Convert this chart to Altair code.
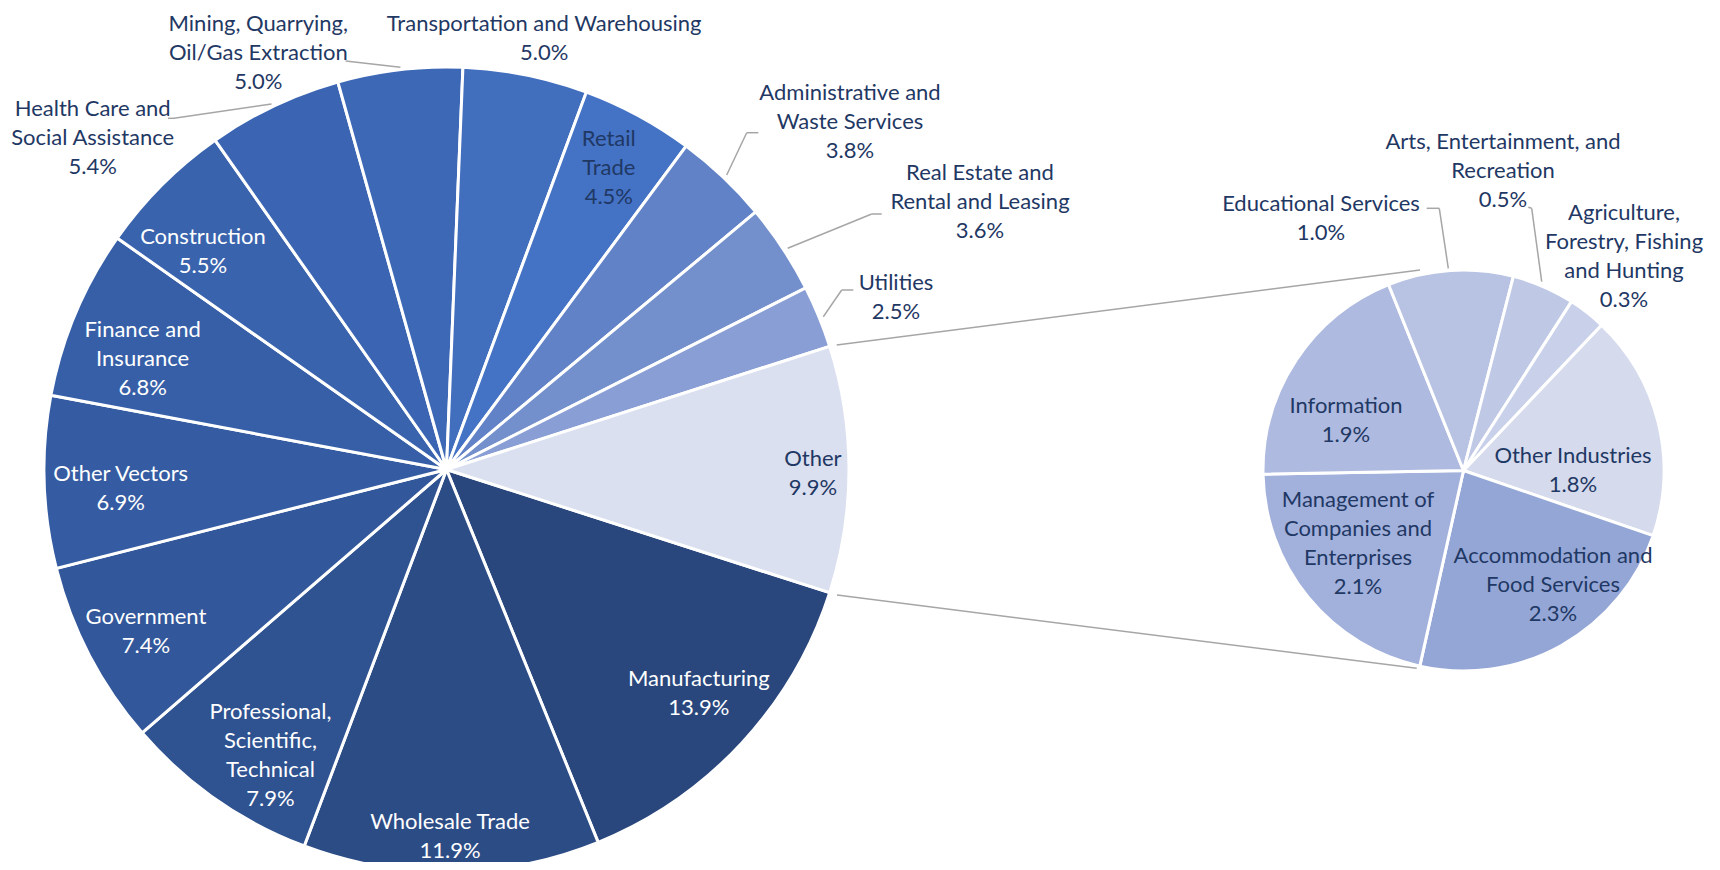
import math
import altair as alt
import pandas as pd

# ---------------- data ----------------
main_names = [
    "Manufacturing", "Wholesale Trade", "Professional, Scientific, Technical",
    "Government", "Other Vectors", "Finance and Insurance", "Construction",
    "Health Care and Social Assistance", "Mining, Quarrying, Oil/Gas Extraction",
    "Transportation and Warehousing", "Retail Trade",
    "Administrative and Waste Services", "Real Estate and Rental and Leasing",
    "Utilities", "Other",
]
main_values = [13.9, 11.9, 7.9, 7.4, 6.9, 6.8, 5.5, 5.4, 5.0, 5.0, 4.5, 3.8, 3.6, 2.5, 9.9]
main_label_lines = [
    ["Manufacturing"], ["Wholesale Trade"], ["Professional,", "Scientific,", "Technical"],
    ["Government"], ["Other Vectors"], ["Finance and", "Insurance"], ["Construction"],
    ["Health Care and", "Social Assistance"], ["Mining, Quarrying,", "Oil/Gas Extraction"],
    ["Transportation and Warehousing"], ["Retail", "Trade"],
    ["Administrative and", "Waste Services"], ["Real Estate and", "Rental and Leasing"],
    ["Utilities"], ["Other"],
]

sub_names = [
    "Other Industries", "Accommodation and Food Services",
    "Management of Companies and Enterprises", "Information",
    "Educational Services", "Arts, Entertainment, and Recreation",
    "Agriculture, Forestry, Fishing and Hunting",
]
sub_values = [1.8, 2.3, 2.1, 1.9, 1.0, 0.5, 0.3]
sub_label_lines = [
    ["Other Industries"], ["Accommodation and", "Food Services"],
    ["Management of", "Companies and", "Enterprises"], ["Information"],
    ["Educational Services"], ["Arts, Entertainment, and", "Recreation"],
    ["Agriculture,", "Forestry, Fishing", "and Hunting"],
]

# ---------------- styles ----------------
main_colors = [
    "#29477D", "#2C4C86", "#2F5290", "#32579A", "#355CA2", "#375FA8", "#3A63AE",
    "#3B65B2", "#3D68B6", "#416EBD", "#4472C4", "#6282C7", "#7390CC", "#889ED4", "#DAE0EF",
]
sub_colors = ["#D5DBED", "#94A6D6", "#A2B0DC", "#AEBADF", "#B8C3E3", "#BFC9E6", "#C8D0EA"]
NAVY = "#1F3864"
WHITE = "#FFFFFF"
LINE = "#A6A6A6"
FONT = "Lato"
FS = 22
LH = 29

# ---------------- layout (pixels in plot area) ----------------
OFF = 8
W, H = 1720 - 2 * OFF, 870 - 2 * OFF
main_cx, main_cy, main_r = 446.5 - OFF, 469.5 - OFF, 402.5
sub_cx, sub_cy, sub_r = 1463.5 - OFF, 470.5 - OFF, 200.5
main_start = math.pi / 2 + math.pi * main_values[-1] / sum(main_values)
sub_start = math.radians(43.5)

# block centres of each label
main_label_pos = [
    (698.8, 693.3, WHITE), (450, 836.9, WHITE), (270.4, 755.3, WHITE),
    (146, 631.8, WHITE), (120.7, 488.2, WHITE), (142.6, 358.7, WHITE),
    (203, 251.8, WHITE), (92.7, 138.2, NAVY), (258.3, 52.7, NAVY),
    (544.1, 38.0, NAVY), (608.8, 168.4, NAVY), (850, 122, NAVY),
    (980, 202, NAVY), (896, 297.8, NAVY), (812.9, 473.8, NAVY),
]
sub_label_pos = [
    (1573, 470, NAVY), (1553, 584.8, NAVY), (1358, 543, NAVY), (1346, 420.5, NAVY),
    (1321, 218.3, NAVY), (1503, 170.8, NAVY), (1624, 256.7, NAVY),
]
leader_polylines = [
    [(345.6, 61), (400.4, 67.3)],
    [(168, 118.3), (174, 118.3), (271.5, 104)],
    [(758.3, 132.7), (746.7, 132.7), (726.7, 175)],
    [(881.7, 214), (871.7, 214), (787.7, 248.3)],
    [(853.3, 290), (841.7, 290), (823.3, 316.7)],
    [(1426.7, 208.3), (1439.3, 208.3), (1448.3, 268.3)],
    [(1528.3, 207.3), (1531.7, 208.3), (1541.7, 281.7)],
    [(836.7, 345), (1420, 270)],
    [(837, 595), (1416.7, 668.3)],
]

# ---------------- tables ----------------
main_df = pd.DataFrame({"name": main_names, "value": main_values,
                        "idx": list(range(len(main_names)))})
sub_df = pd.DataFrame({"name": sub_names, "value": sub_values,
                       "idx": list(range(len(sub_names)))})


def label_rows(lines, values, pos):
    rows = []
    for ln, v, (x, y, c) in zip(lines, values, pos):
        all_lines = ln + [f"{v:.1f}%"]
        first_y = y - (len(all_lines) - 1) * LH / 2
        rows.append({"text": "\n".join(all_lines),
                     "x": x - OFF, "y": first_y - OFF, "c": c})
    return pd.DataFrame(rows)


labels_df = pd.concat([label_rows(main_label_lines, main_values, main_label_pos),
                       label_rows(sub_label_lines, sub_values, sub_label_pos)],
                      ignore_index=True)

seg_rows = []
for poly in leader_polylines:
    for (x1, y1), (x2, y2) in zip(poly[:-1], poly[1:]):
        seg_rows.append({"x": x1 - OFF, "y": y1 - OFF, "x2": x2 - OFF, "y2": y2 - OFF})
seg_df = pd.DataFrame(seg_rows)

# ---------------- marks ----------------
main_pie = alt.Chart(main_df).mark_arc(
    outerRadius=main_r, stroke="white", strokeWidth=3
).encode(
    theta=alt.Theta("value:Q", stack=True,
                    scale=alt.Scale(range=[main_start, main_start + 2 * math.pi])),
    order=alt.Order("idx:Q"),
    color=alt.Color("name:N", scale=alt.Scale(domain=main_names, range=main_colors),
                    legend=None),
    x=alt.value(main_cx),
    y=alt.value(main_cy),
)

sub_pie = alt.Chart(sub_df).mark_arc(
    outerRadius=sub_r, stroke="white", strokeWidth=3
).encode(
    theta=alt.Theta("value:Q", stack=True,
                    scale=alt.Scale(range=[sub_start, sub_start + 2 * math.pi])),
    order=alt.Order("idx:Q"),
    color=alt.Color("name:N", scale=alt.Scale(domain=sub_names, range=sub_colors),
                    legend=None),
    x=alt.value(sub_cx),
    y=alt.value(sub_cy),
)

leaders = alt.Chart(seg_df).mark_rule(color=LINE, strokeWidth=1.5).encode(
    x=alt.X("x:Q", scale=None, axis=None),
    y=alt.Y("y:Q", scale=None, axis=None),
    x2="x2:Q",
    y2="y2:Q",
)

texts = alt.Chart(labels_df).mark_text(
    font=FONT, fontSize=FS, lineBreak="\n", lineHeight=LH,
    align="center", baseline="middle",
).encode(
    x=alt.X("x:Q", scale=None, axis=None),
    y=alt.Y("y:Q", scale=None, axis=None),
    text="text:N",
    color=alt.Color("c:N", scale=None, legend=None),
)

chart = alt.layer(main_pie, sub_pie, leaders, texts).resolve_scale(
    theta="independent", color="independent"
).properties(
    width=W, height=H, padding=0,
    autosize=alt.AutoSizeParams(type="none"),
).configure_view(stroke=None)

chart.save("out.html", embed_options={"renderer": "svg", "actions": False})
